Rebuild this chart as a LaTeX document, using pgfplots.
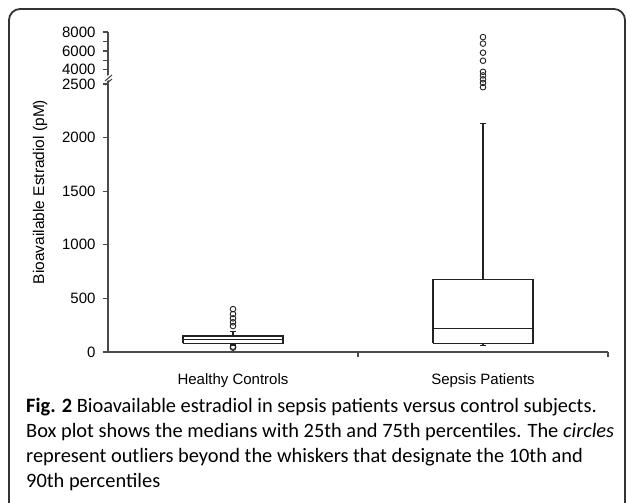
\documentclass[border=0pt]{standalone}
\usepackage{pgfplots}
\pgfplotsset{compat=1.18}
\usepackage{fontspec}
\setmainfont{Liberation Sans}
\newfontfamily\capfont{Carlito}
\definecolor{axiscol}{HTML}{4A4A4A}
\definecolor{boxcol}{HTML}{222222}
\definecolor{framecol}{HTML}{333333}
\pgfplotsset{
  common/.style={
    scale only axis, width=500pt,
    xmin=0.5, xmax=2.5,
    axis y line*=left,
    y axis line style={-}, x axis line style={-},
    axis line style={axiscol, line width=1.4pt},
    tick align=outside,
    major tick length=5pt, minor tick length=5pt,
    tick style={axiscol, line width=1.2pt},
    /pgf/number format/assume math mode=true,
    /pgf/number format/1000 sep={},
    ticklabel style={font=\fontsize{15}{17}\selectfont, text=black},
    yticklabel style={xshift=-4pt},
    clip=false,
  },
  bx/.style={boxcol, line width=1.1pt, mark=none, line cap=square, line join=miter},
  outl/.style={only marks, boxcol, mark=o, mark size=2.8pt, mark options={line width=0.9pt}},
}
\begin{document}
\begin{tikzpicture}
\useasboundingbox (0pt,0pt) rectangle (627pt,503pt);
\begin{scope}
\clip (0pt,0pt) rectangle (627pt,503pt);
\draw[framecol, line width=1.8pt, rounded corners=11pt] (9pt,-30pt) rectangle (625pt,494pt);
\end{scope}
% lower part 0-2500
\begin{axis}[common,
  at={(108pt,151pt)}, anchor=south west, height=268pt,
  ymin=0, ymax=2500,
  axis x line*=bottom,
  xtick={1,2}, xticklabels={Healthy Controls, Sepsis Patients},
  major x tick style={draw=none},
  minor xtick={1.5,2.5},
  ytick={0,500,1000,1500,2000,2500},
  yticklabels={0,500,1000,1500,2000,2500},
  xticklabel style={yshift=-13pt},
]
% Healthy Controls: box 81-149, median 118, whiskers 65-189
\addplot[bx] coordinates {(0.8,81) (1.2,81) (1.2,149) (0.8,149) (0.8,81)};
\addplot[bx] coordinates {(0.8,118) (1.2,118)};
\addplot[bx] coordinates {(1,149) (1,189)};
\addplot[bx] coordinates {(0.988,189) (1.012,189)};
\addplot[bx] coordinates {(1,81) (1,65)};
\addplot[bx] coordinates {(0.988,65) (1.012,65)};
\addplot[outl] coordinates {(1,400) (1,354) (1,314) (1,277) (1,242) (1,50) (1,40)};
% Sepsis Patients: box 80-680, median 217, whiskers 59-2128
\addplot[bx] coordinates {(1.8,80) (2.2,80) (2.2,680) (1.8,680) (1.8,80)};
\addplot[bx] coordinates {(1.8,217) (2.2,217)};
\addplot[bx] coordinates {(2,680) (2,2128)};
\addplot[bx] coordinates {(1.988,2128) (2.012,2128)};
\addplot[bx] coordinates {(2,80) (2,59)};
\addplot[bx] coordinates {(1.988,59) (2.012,59)};
\addplot[outl] coordinates {(2,2470)};
\end{axis}
% upper part 2500-8000
\begin{axis}[common,
  at={(108pt,419pt)}, anchor=south west, height=52pt,
  ymin=2500, ymax=8000,
  axis x line=none,
  ytick={4000,5000,6000,7000,8000},
  yticklabels={4000,{},6000,{},8000},
]
\addplot[outl] coordinates {(2,7460) (2,6770) (2,5810) (2,4960) (2,3790) (2,3410) (2,2990) (2,2610)};
\end{axis}
% y label
\node[rotate=90, font=\fontsize{15.5}{17}\selectfont] at (40pt,311pt) {Bioavailable Estradiol (pM)};
% axis break mark
\fill[white] (103pt,420pt) -- (111pt,424pt) -- (111pt,429pt) -- (103pt,425pt) -- cycle;
\draw[axiscol, line width=1.1pt] (105pt,418pt) -- (112pt,424pt);
\draw[axiscol, line width=1.1pt] (105pt,422pt) -- (112pt,428pt);
\begin{scope}[every node/.style={anchor=base west, inner sep=0pt, font=\capfont\fontsize{20.4}{24}\selectfont}]
\node at (26pt,90pt) {\textbf{Fig. 2} Bioavailable estradiol in sepsis patients versus control subjects.};
\node at (26pt,65pt) {Box plot shows the medians with 25th and 75th percentiles. The \textit{circles}};
\node at (26pt,40pt) {represent outliers beyond the whiskers that designate the 10th and};
\node at (26pt,15.5pt) {90th percentiles};
\end{scope}
\end{tikzpicture}
\end{document}
